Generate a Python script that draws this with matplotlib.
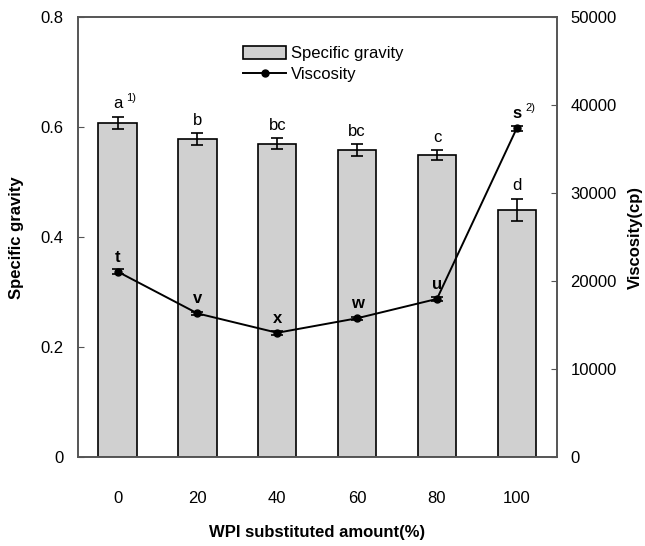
import matplotlib
matplotlib.use("Agg")
import matplotlib.pyplot as plt
import numpy as np
from matplotlib.patches import Patch
from matplotlib.lines import Line2D

plt.rcParams['font.family'] = ['Liberation Sans', 'DejaVu Sans']

categories = ['0', '20', '40', '60', '80', '100']
sg = [0.608, 0.579, 0.570, 0.558, 0.549, 0.450]
sg_err = [0.011, 0.0105, 0.010, 0.011, 0.009, 0.020]
sg_letters = ['a', 'b', 'bc', 'bc', 'c', 'd']
visc = [21100, 16350, 14150, 15800, 18000, 37400]
visc_err = [250, 200, 250, 200, 250, 300]
visc_letters = ['t', 'v', 'x', 'w', 'u', 's']

fig = plt.figure(figsize=(6.45, 5.46), dpi=100)
ax = fig.add_axes([77.7/645, 1-457.3/546, 479/645, 440/546])
ax2 = ax.twinx()

x = np.arange(len(categories))
spine_c = '#555555'

ax.bar(x, sg, width=0.48, color='#d0d0d0', edgecolor='black', linewidth=1.2,
       yerr=sg_err, capsize=4, error_kw=dict(elinewidth=1.2, capthick=1.2, ecolor='black'), zorder=2)
ax.set_xlim(-0.5, 5.5)
ax.set_ylim(0, 0.8)
ax.set_yticks([0, 0.2, 0.4, 0.6, 0.8])
ax.set_yticklabels(['0', '0.2', '0.4', '0.6', '0.8'])
ax.set_xticks(x)
ax.set_xticklabels(categories)
ax.tick_params(axis='x', length=0, pad=24, labelsize=12)
ax.tick_params(axis='y', direction='in', length=4, pad=10, labelsize=12, color=spine_c)
ax.set_ylabel('Specific gravity', fontsize=12, fontweight='bold', labelpad=12)
ax.set_xlabel('WPI substituted amount(%)', fontsize=12, fontweight='bold', labelpad=14)

ax2.errorbar(x, visc, yerr=visc_err, color='black', marker='o', markersize=5,
             linewidth=1.4, capsize=4, elinewidth=1.2, capthick=1.2, zorder=3)
ax2.set_ylim(0, 50000)
ax2.set_yticks([0, 10000, 20000, 30000, 40000, 50000])
ax2.tick_params(axis='y', direction='in', length=4, pad=10, labelsize=12, color=spine_c)
ax2.set_ylabel('Viscosity(cp)', fontsize=12, fontweight='bold', rotation=90, labelpad=8)

for a in (ax, ax2):
    for s in a.spines.values():
        s.set_color(spine_c)
        s.set_linewidth(1.2)

sups = ['1)', '', '', '', '', '']
for i in range(len(x)):
    top = sg[i] + sg_err[i]
    ax.annotate(sg_letters[i], (x[i], top), xytext=(0, 4), textcoords='offset points',
                ha='center', va='bottom', fontsize=12)
    if sups[i]:
        ax.annotate(sups[i], (x[i], top), xytext=(6, 10), textcoords='offset points',
                    ha='left', va='bottom', fontsize=8)
for i in range(len(x)):
    ax2.annotate(visc_letters[i], (x[i], visc[i]), xytext=(0, 5), textcoords='offset points',
                 ha='center', va='bottom', fontsize=12, fontweight='bold')
ax2.annotate('2)', (x[5], visc[5]), xytext=(6, 11), textcoords='offset points',
             ha='left', va='bottom', fontsize=8)

handles = [Patch(facecolor='#d0d0d0', edgecolor='black', linewidth=1.2),
           Line2D([], [], color='black', marker='o', markersize=5, linewidth=1.4)]
ax2.legend(handles, ['Specific gravity', 'Viscosity'], loc='upper left',
           bbox_to_anchor=(0.345, 0.935), frameon=False, fontsize=12,
           handlelength=2.6, handleheight=0.8, handletextpad=0.3, labelspacing=0.35,
           borderpad=0, borderaxespad=0)

fig.savefig('out.png', dpi=100)
